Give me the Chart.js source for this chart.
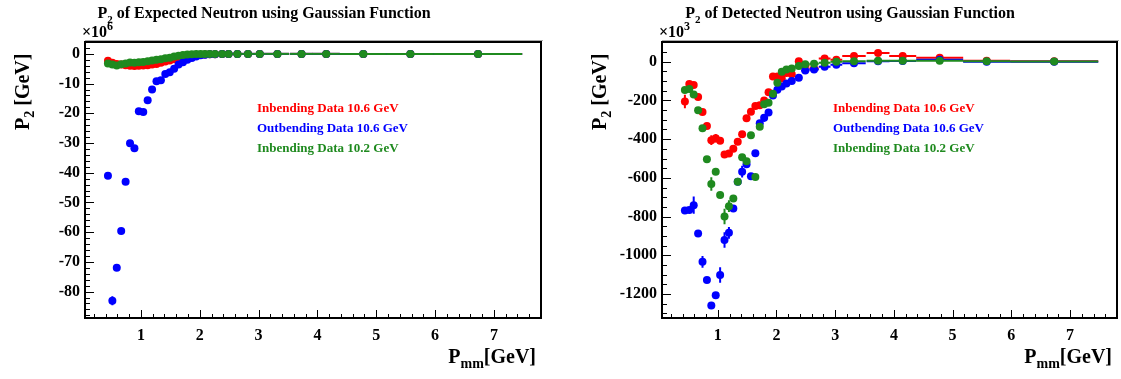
<!DOCTYPE html>
<html>
<head>
<meta charset="utf-8">
<script src="https://cdn.jsdelivr.net/npm/chart.js@4.4.1/dist/chart.umd.min.js"></script>
<style>
  html, body { margin: 0; padding: 0; background: #fff; }
  #wrap { position: relative; width: 1121px; height: 379px; }
  .pad { position: absolute; top: 0; height: 379px; }
</style>
</head>
<body>
<div id="wrap">
  <div class="pad" style="left:0;width:560px"><canvas id="expChart" width="560" height="379"></canvas></div>
  <div class="pad" style="left:560px;width:561px"><canvas id="detChart" width="561" height="379"></canvas></div>
</div>
<script>
// P_mm bin centres and half widths [GeV]
const xBins = [0.44, 0.515, 0.59, 0.665, 0.74, 0.815, 0.89, 0.965, 1.04, 1.115, 1.19, 1.265, 1.34, 1.415, 1.49, 1.565, 1.64, 1.715,
  1.79, 1.865, 1.94, 2.015, 2.09, 2.17, 2.26, 2.38, 2.49, 2.64, 2.82, 3.02, 3.32, 3.73, 4.15, 4.78, 5.58, 6.73];
const xHalf = [0.0375, 0.0375, 0.0375, 0.0375, 0.0375, 0.0375, 0.0375, 0.0375, 0.0375, 0.0375, 0.0375, 0.0375, 0.0375, 0.0375,
  0.0375, 0.0375, 0.0375, 0.0375, 0.0375, 0.0375, 0.0375, 0.0375, 0.04, 0.045, 0.05, 0.06, 0.07, 0.08, 0.1, 0.1, 0.2, 0.195, 0.23, 0.4, 0.4, 0.75];

// expected neutron, P2 in units of 10^6
const expRed = [-2.3, -3.0, -3.4, -3.6, -3.8, -4.0, -4.1, -4.0, -3.9, -3.8, -3.6, -3.4, -3.0, -2.6, -2.2, -1.8, -1.5, -1.1,
  -0.8, -0.6, -0.4, -0.3, -0.2, -0.15, -0.1, -0.05, -0.05, 0, 0, 0, 0, 0, 0, 0, 0, 0];
const expBlue = [-41.0, -83.1, -72.0, -59.6, -43.0, -30.1, -31.8, -19.3, -19.6, -15.6, -12.0, -9.2, -8.9, -6.8, -6.2, -5.0, -3.6, -2.8,
  -2.0, -1.4, -0.9, -0.5, -0.3, -0.15, -0.1, -0.05, 0, 0, 0, 0, 0, 0, 0, 0, 0, 0];
const expGreen = [-3.2, -3.6, -3.9, -3.5, -3.2, -2.9, -3.0, -2.8, -2.7, -2.5, -2.2, -2.0, -1.8, -1.5, -1.3, -0.9, -0.6, -0.4,
  -0.2, -0.1, 0, 0, 0, 0, 0, 0, 0, 0, 0, 0, 0, 0, 0, 0, 0, 0];
const expRedErr = [0.2, 0.2, 0.2, 0.2, 0.2, 0.2, 0.2, 0.2, 0.2, 0.2, 0.2, 0.2, 0.2, 0.2, 0.2, 0.2, 0.2, 0.2,
  0, 0, 0, 0, 0, 0, 0, 0, 0, 0, 0, 0, 0, 0, 0, 0, 0, 0];
const expBlueErr = [0.6, 1.5, 0.8, 0.6, 0.5, 0.4, 0.4, 0.3, 0.3, 0.3, 0.3, 0.2, 0.2, 0.2, 0.2, 0.2, 0.2, 0.2,
  0, 0, 0, 0, 0, 0, 0, 0, 0, 0, 0, 0, 0, 0, 0, 0, 0, 0];
const expGreenErr = [0.2, 0.2, 0.2, 0.2, 0.2, 0.2, 0.2, 0.2, 0.2, 0.2, 0.2, 0.2, 0.2, 0.2, 0.2, 0.2, 0.2, 0.2,
  0, 0, 0, 0, 0, 0, 0, 0, 0, 0, 0, 0, 0, 0, 0, 0, 0, 0];

// detected neutron, P2 in units of 10^3
const detRed = [-205, -115, -120, -182, -260, -332, -405, -395, -408, -479, -474, -450, -413, -375, -292, -258, -229, -225,
  -200, -158, -76, -76, -86, -58, -65, 2, -20, -35, 17, 10, 30, 45, 30, 20, 5, 2];
const detBlue = [-768, -766, -741, -887, -1034, -1128, -1259, -1207, -1102, -921, -884, -758, -620, -568, -530, -591, -473, -318,
  -290, -262, -175, -145, -128, -112, -100, -83, -45, -40, -26, -15, -8, 3, 4, 10, 0, 0];
const detGreen = [-146, -141, -169, -250, -344, -504, -632, -568, -689, -800, -746, -706, -620, -494, -514, -380, -595, -336,
  -220, -212, -165, -108, -52, -40, -35, -22, -13, -10, -5, 0, 3, 5, 5, 5, 2, 1];
const detRedErr = [35, 10, 10, 10, 10, 10, 25, 22, 10, 10, 10, 10, 10, 10, 10, 10, 10, 10,
  10, 10, 10, 10, 10, 10, 10, 8, 8, 8, 8, 8, 8, 8, 8, 8, 8, 8];
const detBlueErr = [10, 10, 45, 10, 30, 10, 10, 10, 40, 40, 30, 10, 10, 30, 10, 10, 10, 15,
  20, 10, 10, 10, 10, 10, 10, 8, 8, 8, 8, 8, 8, 8, 8, 8, 8, 8];
const detGreenErr = [10, 10, 10, 10, 10, 10, 35, 10, 10, 40, 30, 10, 10, 10, 10, 10, 10, 10,
  10, 10, 10, 10, 10, 10, 10, 8, 8, 8, 8, 8, 8, 8, 8, 8, 8, 8];

// axis tick labels
const xTicks = [1, 2, 3, 4, 5, 6, 7];
const expYTicks = [0, -10, -20, -30, -40, -50, -60, -70, -80];
const detYTicks = [0, -200, -400, -600, -800, -1000, -1200];

const legendNames = ['Inbending Data 10.6 GeV', 'Outbending Data 10.6 GeV', 'Inbending Data 10.2 GeV'];
const colors = ['#ff0000', '#0000ff', '#1f8a1f'];

const serif = '"Liberation Serif", "Times New Roman", serif';

function points(ys, errs) {
  return xBins.map((x, i) => ({ x: x, y: ys[i], xe: xHalf[i], ye: errs[i] }));
}

// draw a run of text pieces with their own size and vertical shift
function richText(ctx, parts, x, y, align) {
  let total = 0;
  parts.forEach(p => { ctx.font = 'bold ' + p.s + 'px ' + serif; total += ctx.measureText(p.t).width; });
  let cx = align === 'right' ? x - total : align === 'center' ? x - total / 2 : x;
  ctx.textAlign = 'left';
  ctx.textBaseline = 'alphabetic';
  parts.forEach(p => {
    ctx.font = 'bold ' + p.s + 'px ' + serif;
    ctx.fillText(p.t, cx, y + (p.dy || 0));
    cx += ctx.measureText(p.t).width;
  });
}

// horizontal (bin width) and vertical error bars under each dataset
const errorBars = {
  id: 'errorBars',
  beforeDatasetDraw(chart, args) {
    const ds = chart.data.datasets[args.index];
    const { ctx, chartArea, scales } = chart;
    const xs = scales.x, ys = scales.y;
    ctx.save();
    ctx.beginPath();
    ctx.rect(chartArea.left, chartArea.top, chartArea.width, chartArea.height);
    ctx.clip();
    ctx.strokeStyle = ds.backgroundColor;
    ctx.lineWidth = 2;
    ds.data.forEach(p => {
      const px = xs.getPixelForValue(p.x), py = ys.getPixelForValue(p.y);
      ctx.beginPath();
      ctx.moveTo(xs.getPixelForValue(p.x - p.xe), py);
      ctx.lineTo(xs.getPixelForValue(p.x + p.xe), py);
      if (p.ye) {
        ctx.moveTo(px, ys.getPixelForValue(p.y - p.ye));
        ctx.lineTo(px, ys.getPixelForValue(p.y + p.ye));
      }
      ctx.stroke();
    });
    ctx.restore();
  }
};

// ROOT style frame, inside ticks and the texts of the pad
const padDecor = {
  id: 'padDecor',
  afterDraw(chart, args, o) {
    const { ctx, chartArea: a, scales } = chart;
    const xs = scales.x, ys = scales.y;
    ctx.save();
    ctx.strokeStyle = '#000';
    ctx.lineWidth = 1;
    // y ticks
    ctx.beginPath();
    for (let v = Math.ceil(ys.min / o.yMinor) * o.yMinor; v <= ys.max + 1e-9; v += o.yMinor) {
      const py = Math.round(ys.getPixelForValue(v)) + 0.5;
      const major = Math.abs(v / o.yMajor - Math.round(v / o.yMajor)) < 1e-6;
      ctx.moveTo(a.left, py);
      ctx.lineTo(a.left + (major ? 9 : 5), py);
    }
    // x ticks
    for (let v = Math.ceil(xs.min / 0.2) * 0.2; v <= xs.max + 1e-9; v += 0.2) {
      const px = Math.round(xs.getPixelForValue(v)) + 0.5;
      const major = Math.abs(v - Math.round(v)) < 1e-6;
      ctx.moveTo(px, a.bottom);
      ctx.lineTo(px, a.bottom - (major ? 8 : 4));
    }
    ctx.stroke();
    // frame
    ctx.strokeStyle = '#aaa';
    ctx.lineWidth = 1;
    ctx.beginPath();
    ctx.moveTo(a.left, a.top - 1.5);
    ctx.lineTo(a.right + 2, a.top - 1.5);
    ctx.stroke();
    ctx.strokeStyle = '#000';
    ctx.lineWidth = 2;
    ctx.strokeRect(a.left, a.top, a.right - a.left, a.bottom - a.top);

    ctx.fillStyle = '#000';
    // pad title
    richText(ctx, [{ t: 'P', s: 16 }, { t: '2', s: 11, dy: 5 }, { t: ' of ' + o.title, s: 16 }], o.titleX, 18, 'center');
    // exponent of the y axis
    richText(ctx, [{ t: '\u00d710', s: 16 }, { t: o.exponent, s: 12, dy: -7 }], a.left - 3, 37, 'left');
    // x axis title
    richText(ctx, [{ t: 'P', s: 20 }, { t: 'mm', s: 14, dy: 5 }, { t: '[GeV]', s: 20 }], a.right - 5, 363, 'right');
    // y axis title
    ctx.save();
    ctx.translate(o.yTitleX, a.top + 88);
    ctx.rotate(-Math.PI / 2);
    richText(ctx, [{ t: 'P', s: 20 }, { t: '2', s: 14, dy: 5 }, { t: ' [GeV]', s: 20 }], 0, 0, 'left');
    ctx.restore();
    // legend
    legendNames.forEach((name, i) => {
      ctx.fillStyle = colors[i];
      richText(ctx, [{ t: name, s: 13 }], o.legendX, 112 + i * 20, 'left');
    });
    ctx.restore();
  }
};

function makeChart(id, series, errs, cfg) {
  const order = [2, 1, 0];
  return new Chart(document.getElementById(id), {
    type: 'scatter',
    data: {
      datasets: series.map((ys, i) => ({
        label: legendNames[i],
        data: points(ys, errs[i]),
        backgroundColor: colors[i],
        borderColor: colors[i],
        borderWidth: 0,
        pointRadius: 4,
        pointHoverRadius: 4,
        order: order[i]
      }))
    },
    options: {
      responsive: false,
      animation: false,
      events: [],
      layout: { padding: { left: 0, top: 42, right: cfg.padRight, bottom: 0 } },
      plugins: {
        legend: { display: false },
        tooltip: { enabled: false },
        padDecor: cfg.decor
      },
      scales: {
        x: {
          type: 'linear',
          min: 0.05,
          max: 7.8,
          grid: { display: false, drawTicks: false },
          border: { display: false },
          afterBuildTicks: s => { s.ticks = xTicks.map(v => ({ value: v })); },
          afterFit: s => { s.height = 61; },
          ticks: { color: '#000', padding: 8, maxRotation: 0, autoSkip: false,
                   font: { family: serif, size: 16, weight: 'bold' }, callback: v => String(v) }
        },
        y: {
          type: 'linear',
          min: cfg.yMin,
          max: cfg.yMax,
          grid: { display: false, drawTicks: false },
          border: { display: false },
          afterBuildTicks: s => { s.ticks = cfg.yTicks.map(v => ({ value: v })); },
          afterFit: s => { s.width = cfg.axisLeft; },
          ticks: { color: '#000', padding: 5, autoSkip: false,
                   font: { family: serif, size: 16, weight: 'bold' }, callback: v => String(v) }
        }
      }
    },
    plugins: [errorBars, padDecor]
  });
}

makeChart('expChart', [expRed, expBlue, expGreen], [expRedErr, expBlueErr, expGreenErr], {
  padRight: 19, axisLeft: 85, yMin: -88.9, yMax: 4.0, yTicks: expYTicks,
  decor: { yMinor: 2, yMajor: 10, title: 'Expected Neutron using Gaussian Function', titleX: 264,
           exponent: '6', yTitleX: 29, legendX: 257 }
});

makeChart('detChart', [detRed, detBlue, detGreen], [detRedErr, detBlueErr, detGreenErr], {
  padRight: 3, axisLeft: 102, yMin: -1324, yMax: 102, yTicks: detYTicks,
  decor: { yMinor: 50, yMajor: 200, title: 'Detected Neutron using Gaussian Function', titleX: 290,
           exponent: '3', yTitleX: 46, legendX: 273 }
});
</script>
</body>
</html>
